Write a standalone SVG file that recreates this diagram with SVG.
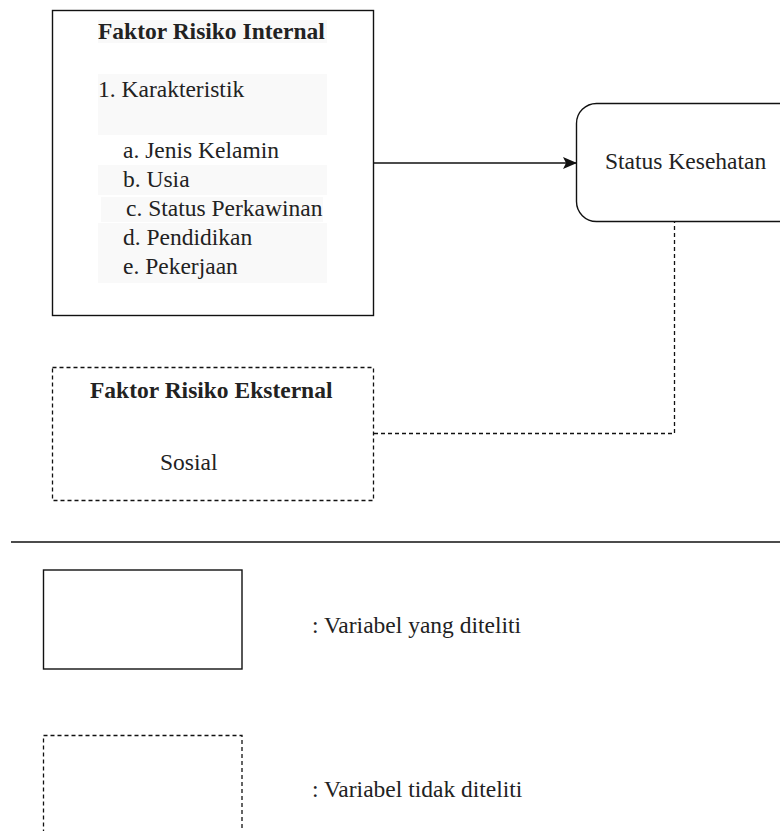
<svg xmlns="http://www.w3.org/2000/svg" width="780" height="831" viewBox="0 0 780 831">
  <style>
    text { font-family: "Liberation Serif", "Times New Roman", serif; font-size: 23.5px; fill: #222; }
    .b { font-weight: bold; }
    .solid { fill: #fff; stroke: #111; stroke-width: 1.4; }
    .dash { fill: #fff; stroke: #111; stroke-width: 1.3; stroke-dasharray: 4 3; }
    .hl { fill: #f9f9f9; }
    .conn { fill: none; stroke: #111; stroke-width: 1.4; }
    .dconn { fill: none; stroke: #111; stroke-width: 1.3; stroke-dasharray: 4 3; }
  </style>
  <defs>
    <marker id="arr" viewBox="0 0 14 12" refX="13" refY="6" markerWidth="14" markerHeight="12" markerUnits="userSpaceOnUse" orient="auto">
      <path d="M0,0 L14,6 L0,12 L3,6 Z" fill="#111"/>
    </marker>
  </defs>

  <g id="internal">
    <rect class="solid" x="52.5" y="10.5" width="321" height="305"/>
    <rect class="hl" x="98" y="20" width="229" height="23"/>
    <rect class="hl" x="98" y="74" width="229" height="61"/>
    <rect class="hl" x="98" y="165" width="229" height="30"/>
    <rect class="hl" x="101" y="197" width="222" height="25"/>
    <rect class="hl" x="98" y="223" width="229" height="60"/>
    <text class="b" x="98" y="39">Faktor Risiko Internal</text>
    <text x="98" y="97">1. Karakteristik</text>
    <text x="123" y="158">a. Jenis Kelamin</text>
    <text x="123" y="187">b. Usia</text>
    <text x="126" y="216">c. Status Perkawinan</text>
    <text x="123" y="245">d. Pendidikan</text>
    <text x="123" y="274">e. Pekerjaan</text>
  </g>

  <g id="status">
    <rect class="solid" x="576.5" y="103.5" width="230" height="118" rx="20" ry="20"/>
    <text x="605" y="169">Status Kesehatan</text>
  </g>

  <g id="external">
    <rect class="dash" x="52.5" y="367.5" width="321" height="133"/>
    <text class="b" x="90" y="398">Faktor Risiko Eksternal</text>
    <text x="160" y="470">Sosial</text>
  </g>

  <g id="connectors">
    <line class="conn" x1="374" y1="163" x2="576" y2="163" marker-end="url(#arr)"/>
    <polyline class="dconn" points="374,433.5 674.5,433.5 674.5,222"/>
  </g>

  <g id="separator">
    <line x1="11" y1="542" x2="780" y2="542" stroke="#111" stroke-width="1.5"/>
  </g>

  <g id="legend-solid">
    <rect class="solid" x="43.5" y="570" width="198.5" height="99"/>
    <text x="312" y="633">: Variabel yang diteliti</text>
  </g>

  <g id="legend-dashed">
    <rect class="dash" x="43.5" y="735.5" width="198.5" height="120"/>
    <text x="312" y="797">: Variabel tidak diteliti</text>
  </g>
</svg>
